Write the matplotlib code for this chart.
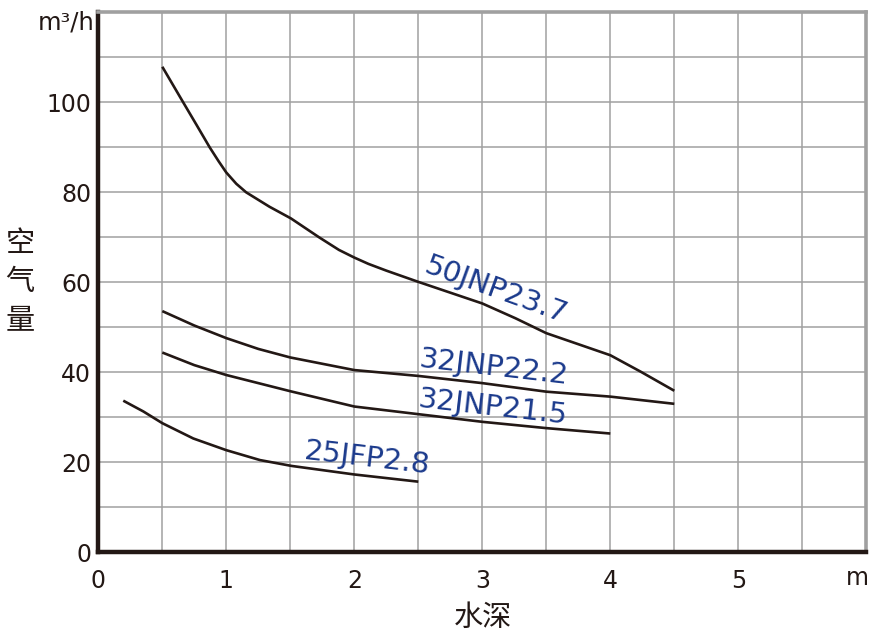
import matplotlib
matplotlib.use("Agg")
import matplotlib.pyplot as plt
from matplotlib.ticker import MultipleLocator

plt.rcParams['font.family'] = ['DejaVu Sans', 'Noto Sans CJK SC']

# Data
x_50jnp = [0.5, 0.663, 0.767, 0.87, 0.94, 1.0, 1.078, 1.155, 1.337, 1.505, 1.725, 1.88, 2.0, 2.11,
           2.25, 2.5, 3.0, 3.26, 3.5, 4.0, 4.24, 4.5]
y_50jnp = [107.9, 100, 95.0, 90, 86.9, 84.4, 81.9, 80, 76.8, 74.2, 70, 67.2, 65.5, 64.1,
           62.6, 60.1, 55.3, 52, 48.7, 43.8, 40.1, 35.9]

x_32jnp222 = [0.5, 0.75, 1.0, 1.25, 1.5, 2.0, 2.5, 3.0, 3.5, 4.0, 4.5]
y_32jnp222 = [53.6, 50.4, 47.6, 45.2, 43.3, 40.5, 39.2, 37.6, 35.7, 34.6, 33.0]

x_32jnp215 = [0.5, 0.75, 1.0, 1.5, 2.0, 2.5, 3.0, 3.5, 4.0]
y_32jnp215 = [44.4, 41.6, 39.4, 35.8, 32.4, 30.7, 29.0, 27.6, 26.4]

x_25jfp = [0.195, 0.352, 0.5, 0.742, 1.0, 1.263, 1.51, 2.0, 2.5]
y_25jfp = [33.7, 31.3, 28.7, 25.3, 22.7, 20.5, 19.2, 17.3, 15.7]

labels = ["50JNP23.7", "32JNP22.2", "32JNP21.5", "25JFP2.8"]
label_pos = [(3.11, 58.3, -20), (3.09, 41.0, -6.6), (3.08, 32.2, -6.5), (2.10, 20.8, -6.7)]

x_ticks = [0, 1, 2, 3, 4, 5]
y_ticks = [0, 20, 40, 60, 80, 100]

line_color = '#231815'
text_color = '#231815'
label_color = '#1b3a8c'
grid_color = '#a0a0a0'

fig = plt.figure(figsize=(8.77, 6.35), dpi=100)
ax = fig.add_axes([0.1121, 0.1302, 0.9878 - 0.1121, 0.9806 - 0.1302])
ax.set_xlim(0, 6)
ax.set_ylim(0, 120)

ax.xaxis.set_minor_locator(MultipleLocator(0.5))
ax.yaxis.set_minor_locator(MultipleLocator(10))
ax.set_xticks(x_ticks)
ax.set_yticks(y_ticks)
ax.set_xticklabels([str(v) for v in x_ticks])
ax.set_yticklabels([str(v) for v in y_ticks])
ax.grid(which='both', color=grid_color, linewidth=1.1)
ax.set_axisbelow(True)
ax.tick_params(which='both', length=0, labelsize=17, colors=text_color)
ax.tick_params(axis='x', pad=12)
ax.tick_params(axis='y', pad=5)

for side in ['left', 'bottom']:
    ax.spines[side].set_color(line_color)
    ax.spines[side].set_linewidth(3.2)
for side in ['top', 'right']:
    ax.spines[side].set_color(grid_color)
    ax.spines[side].set_linewidth(2.6)

for xs, ys in [(x_50jnp, y_50jnp), (x_32jnp222, y_32jnp222),
               (x_32jnp215, y_32jnp215), (x_25jfp, y_25jfp)]:
    ax.plot(xs, ys, color=line_color, linewidth=1.9, solid_capstyle='butt',
            solid_joinstyle='round')

for lab, (lx, ly, rot) in zip(labels, label_pos):
    ax.text(lx, ly, lab, color=label_color, fontsize=21, rotation=rot,
            rotation_mode='anchor', ha='center', va='center')

fig.text(95 / 877, 1 - 22 / 635, 'm³/h', fontsize=17.5, color=text_color,
         ha='right', va='center')
fig.text(857 / 877, 1 - 578 / 635, 'm', fontsize=17, color=text_color,
         ha='center', va='center')
fig.text(483 / 877, 1 - 618 / 635, '水深', fontsize=21,
         family=['Noto Sans CJK SC', 'DejaVu Sans'], color=text_color,
         ha='center', va='center')
for i, ch in enumerate('空气量'):
    fig.text(20 / 877, 1 - (244 + i * 38.5) / 635, ch, fontsize=21,
             family=['Noto Sans CJK SC', 'DejaVu Sans'],
             color=text_color, ha='center', va='center')

fig.savefig('out.png', dpi=100)
